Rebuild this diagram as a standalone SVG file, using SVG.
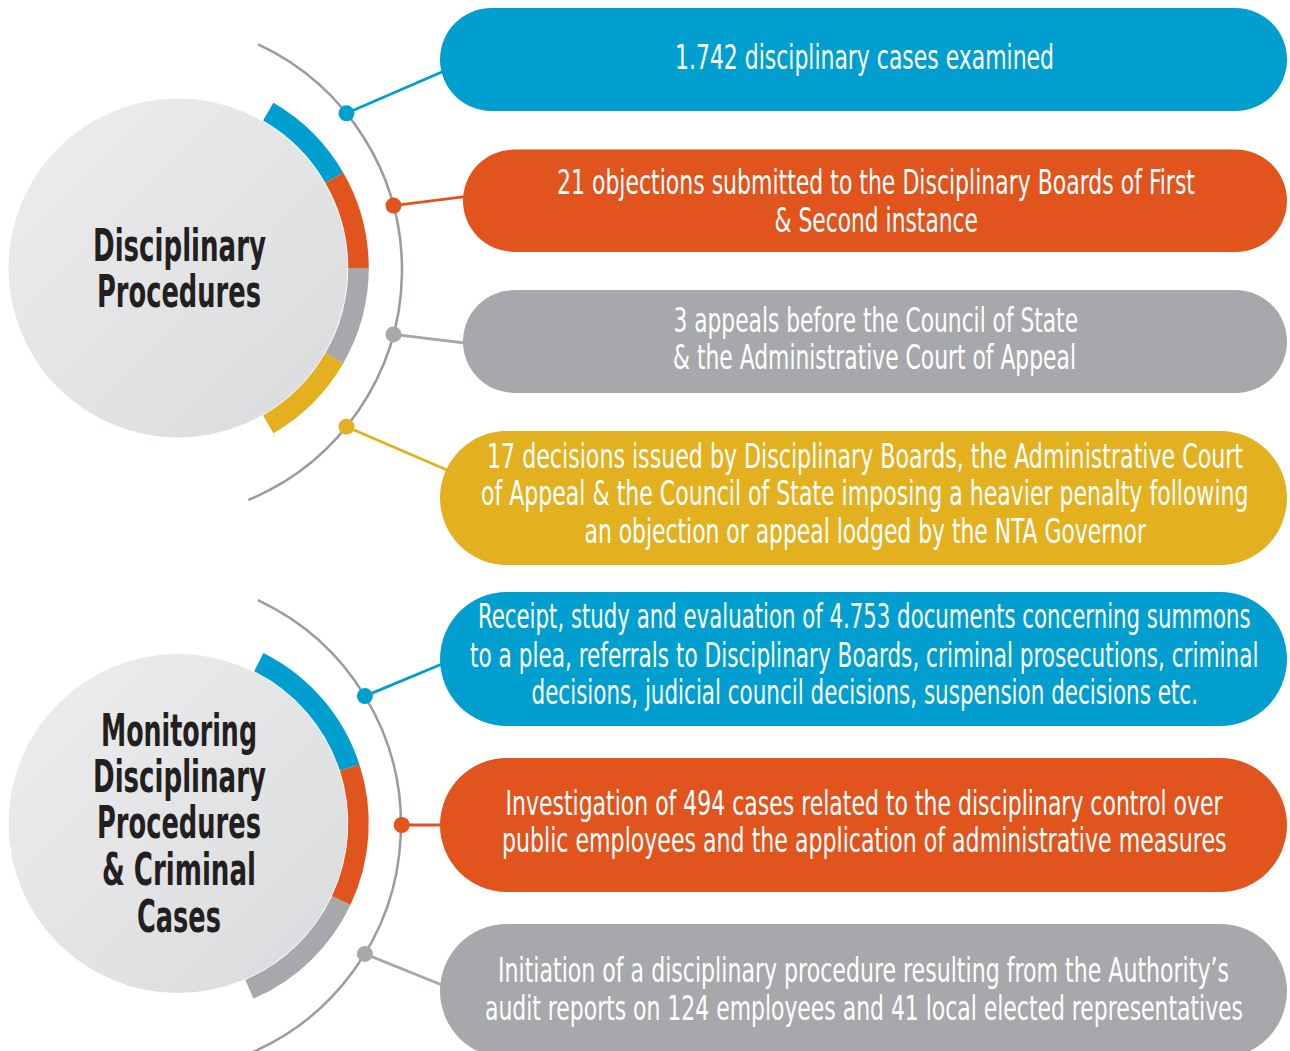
<svg xmlns="http://www.w3.org/2000/svg" width="1290" height="1051" viewBox="0 0 1290 1051">
<defs>
<linearGradient id="hub" x1="0" y1="0" x2="1" y2="1">
<stop offset="0" stop-color="#eeeeef"/>
<stop offset="1" stop-color="#d9dadd"/>
</linearGradient>
<style>
.ptxt{font-family:"Liberation Sans Narrow","DejaVu Sans Condensed","Liberation Sans",sans-serif;font-size:34px;fill:#ffffff;}
.title{font-family:"Liberation Sans Narrow","DejaVu Sans Condensed","Liberation Sans",sans-serif;font-size:44px;font-weight:bold;fill:#231f20;}
.ring{fill:none;stroke-width:20.5;}
.guide{fill:none;stroke:#9b9c9e;stroke-width:2.5;}
.blue{fill:#019fcf;}
.orange{fill:#e1541e;}
.gray{fill:#a7a8ab;}
.yellow{fill:#e3b120;}
.sblue{stroke:#019fcf;}
.sorange{stroke:#e1541e;}
.sgray{stroke:#a7a8ab;}
.syellow{stroke:#e3b120;}
.conn{stroke-width:2.8;fill:none;}
</style>
</defs>
<rect x="0" y="0" width="1290" height="1051" fill="#ffffff"/>

<g id="hub-disciplinary">
<circle cx="178" cy="268" r="169.5" fill="url(#hub)"/>
<path class="ring sblue" d="M268.25 111.7 A180.5 180.5 0 0 1 334.3 177.75"/>
<path class="ring sorange" d="M334.3 177.75 A180.5 180.5 0 0 1 358.5 268"/>
<path class="ring sgray" d="M358.5 268 A180.5 180.5 0 0 1 334.3 358.25"/>
<path class="ring syellow" d="M334.3 358.25 A180.5 180.5 0 0 1 268.25 424.3"/>
<path class="guide" d="M258.2 44.3 A249 249 0 0 1 248.3 500"/>
<text class="title" transform="translate(93 261) scale(0.75 1)" textLength="230.7" lengthAdjust="spacingAndGlyphs">Disciplinary</text>
<text class="title" transform="translate(97 307) scale(0.75 1)" textLength="218.7" lengthAdjust="spacingAndGlyphs">Procedures</text>
</g>

<g id="hub-monitoring">
<circle cx="178" cy="823.5" r="169.5" fill="url(#hub)"/>
<path class="ring sblue" d="M258.8 662.1 A180.5 180.5 0 0 1 349.7 767.7"/>
<path class="ring sorange" d="M349.7 767.7 A180.5 180.5 0 0 1 341.2 900.6"/>
<path class="ring sgray" d="M341.2 900.6 A180.5 180.5 0 0 1 249.4 989.3"/>
<path class="guide" d="M257.8 600.2 A248 248 0 0 1 237.8 1058"/>
<text class="title" transform="translate(101 746) scale(0.75 1)" textLength="208" lengthAdjust="spacingAndGlyphs">Monitoring</text>
<text class="title" transform="translate(93 792) scale(0.75 1)" textLength="230.7" lengthAdjust="spacingAndGlyphs">Disciplinary</text>
<text class="title" transform="translate(97 838) scale(0.75 1)" textLength="218.7" lengthAdjust="spacingAndGlyphs">Procedures</text>
<text class="title" transform="translate(102 885) scale(0.75 1)" textLength="205.3" lengthAdjust="spacingAndGlyphs">&amp; Criminal</text>
<text class="title" transform="translate(137 932) scale(0.75 1)" textLength="112" lengthAdjust="spacingAndGlyphs">Cases</text>
</g>

<g id="connectors">
<line class="conn sblue" x1="346.5" y1="113.3" x2="443" y2="71.5"/>
<line class="conn sorange" x1="393.5" y1="205.6" x2="465" y2="196.7"/>
<line class="conn sgray" x1="393.5" y1="334.4" x2="465" y2="343"/>
<line class="conn syellow" x1="346.5" y1="426.7" x2="447" y2="470"/>
<line class="conn sblue" x1="364.9" y1="696.1" x2="442" y2="664"/>
<line class="conn sorange" x1="401.7" y1="825" x2="442" y2="825"/>
<line class="conn sgray" x1="364.9" y1="953.9" x2="442" y2="985"/>
<circle class="blue" cx="346.5" cy="113.3" r="8"/>
<circle class="orange" cx="393.5" cy="205.6" r="8"/>
<circle class="gray" cx="393.5" cy="334.4" r="8"/>
<circle class="yellow" cx="346.5" cy="426.7" r="8"/>
<circle class="blue" cx="364.9" cy="696.1" r="8"/>
<circle class="orange" cx="401.7" cy="825" r="8"/>
<circle class="gray" cx="364.9" cy="953.9" r="8"/>
</g>

<g id="item-1">
<rect class="blue" x="440" y="8" width="847" height="103" rx="51.5"/>
<text class="ptxt" transform="translate(675 69) scale(0.7 1)" textLength="541.4" lengthAdjust="spacingAndGlyphs">1.742 disciplinary cases examined</text>
</g>

<g id="item-2">
<rect class="orange" x="463" y="149.5" width="824" height="102.5" rx="51.25"/>
<text class="ptxt" transform="translate(557 194) scale(0.7 1)" textLength="911.4" lengthAdjust="spacingAndGlyphs">21 objections submitted to the Disciplinary Boards of First</text>
<text class="ptxt" transform="translate(774.5 232) scale(0.7 1)" textLength="290.7" lengthAdjust="spacingAndGlyphs">&amp; Second instance</text>
</g>

<g id="item-3">
<rect class="gray" x="463" y="290" width="824" height="103" rx="51.5"/>
<text class="ptxt" transform="translate(673.5 332) scale(0.7 1)" textLength="577.9" lengthAdjust="spacingAndGlyphs">3 appeals before the Council of State</text>
<text class="ptxt" transform="translate(673 369) scale(0.7 1)" textLength="575.7" lengthAdjust="spacingAndGlyphs">&amp; the Administrative Court of Appeal</text>
</g>

<g id="item-4">
<rect class="yellow" x="440" y="431" width="847" height="134" rx="67"/>
<text class="ptxt" transform="translate(487 468) scale(0.7 1)" textLength="1080" lengthAdjust="spacingAndGlyphs">17 decisions issued by Disciplinary Boards, the Administrative Court</text>
<text class="ptxt" transform="translate(481 505) scale(0.7 1)" textLength="1096.4" lengthAdjust="spacingAndGlyphs">of Appeal &amp; the Council of State imposing a heavier penalty following</text>
<text class="ptxt" transform="translate(584.5 543) scale(0.7 1)" textLength="802.1" lengthAdjust="spacingAndGlyphs">an objection or appeal lodged by the NTA Governor</text>
</g>

<g id="item-5">
<rect class="blue" x="440" y="592" width="847" height="134" rx="67"/>
<text class="ptxt" transform="translate(478 628) scale(0.7 1)" textLength="1103.6" lengthAdjust="spacingAndGlyphs">Receipt, study and evaluation of 4.753 documents concerning summons</text>
<text class="ptxt" transform="translate(470 667) scale(0.7 1)" textLength="1126.4" lengthAdjust="spacingAndGlyphs">to a plea, referrals to Disciplinary Boards, criminal prosecutions, criminal</text>
<text class="ptxt" transform="translate(531.5 704) scale(0.7 1)" textLength="952.1" lengthAdjust="spacingAndGlyphs">decisions, judicial council decisions, suspension decisions etc.</text>
</g>

<g id="item-6">
<rect class="orange" x="440" y="758" width="847" height="134" rx="67"/>
<text class="ptxt" transform="translate(505.5 815) scale(0.7 1)" textLength="1024.3" lengthAdjust="spacingAndGlyphs">Investigation of 494 cases related to the disciplinary control over</text>
<text class="ptxt" transform="translate(502 852) scale(0.7 1)" textLength="1035" lengthAdjust="spacingAndGlyphs">public employees and the application of administrative measures</text>
</g>

<g id="item-7">
<rect class="gray" x="440" y="924" width="847" height="134" rx="67"/>
<text class="ptxt" transform="translate(498 982) scale(0.7 1)" textLength="1044.3" lengthAdjust="spacingAndGlyphs">Initiation of a disciplinary procedure resulting from the Authority’s</text>
<text class="ptxt" transform="translate(485 1020) scale(0.7 1)" textLength="1082.9" lengthAdjust="spacingAndGlyphs">audit reports on 124 employees and 41 local elected representatives</text>
</g>
</svg>
